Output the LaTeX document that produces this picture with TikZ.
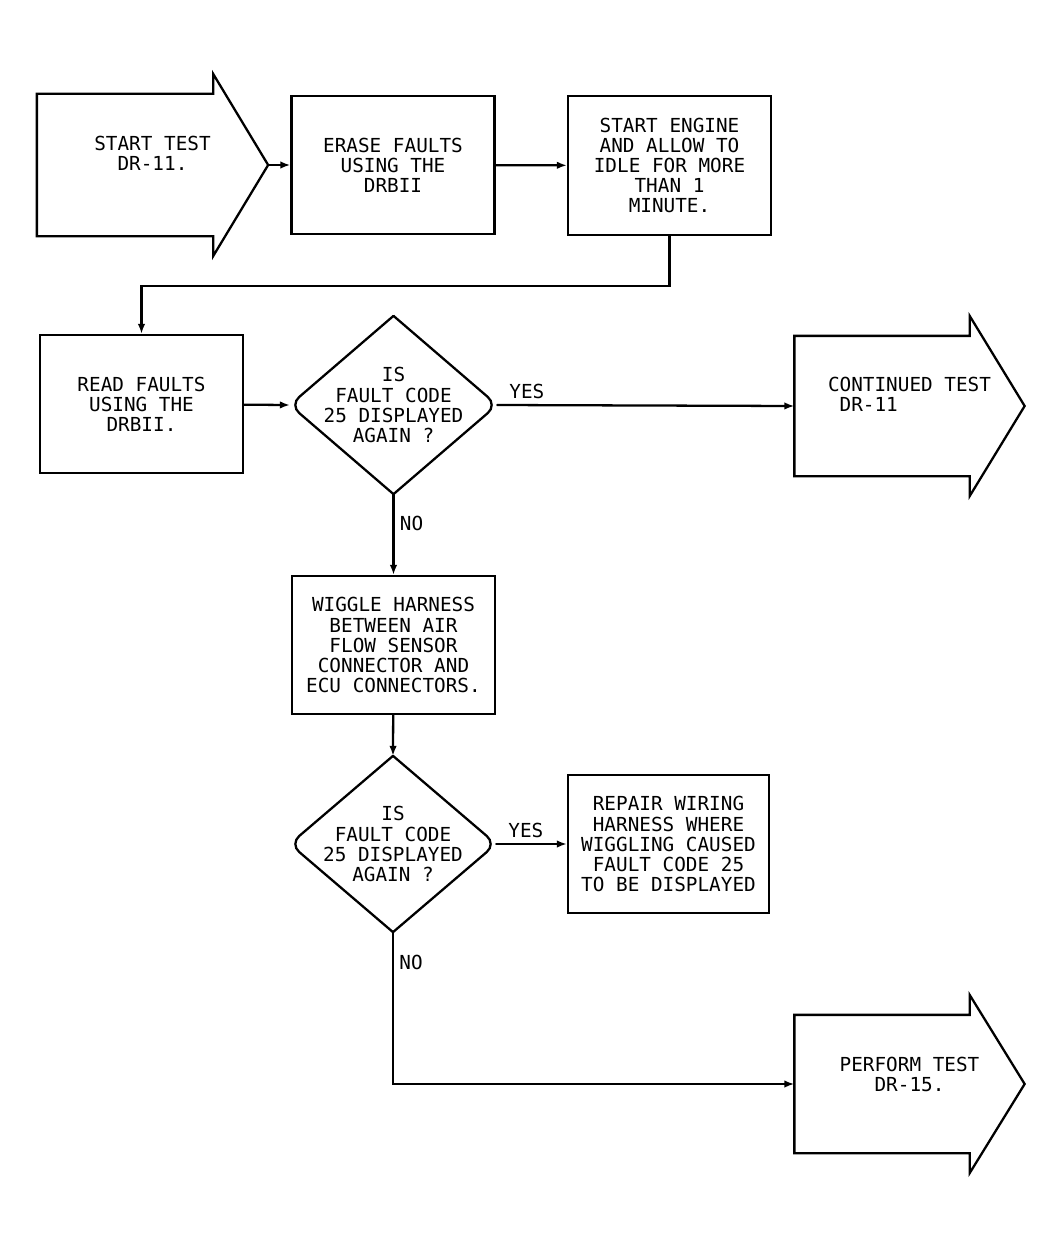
\documentclass[tikz,border=0pt]{standalone}
\usepackage{fontspec}
\setmonofont{DejaVu Sans Mono}
\usepackage{tikz}
\usetikzlibrary{arrows.meta}

% outline of a big arrow (body + head) round a node
\newcommand{\termoutline}[1]{%
  \draw (#1.south west) -- (#1.north west) -- ([xshift=-1.1cm]#1.north east) -- ++(0,0.4)
    -- (#1.east) -- ([xshift=-1.1cm,yshift=-0.4cm]#1.south east) -- ([xshift=-1.1cm]#1.south east) -- cycle;}
% outline of a decision, left and right corners rounded
\newcommand{\decoutline}[1]{%
  \draw[rounded corners=7pt] (#1.north) -- (#1.west) -- (#1.south);
  \draw[rounded corners=7pt] (#1.north) -- (#1.east) -- (#1.south);}

\begin{document}
\begin{tikzpicture}[line width=1.3pt, line cap=round, >={Latex[length=2mm,width=1.5mm]},
  every node/.style={font=\ttfamily\fontsize{11pt}{11.4pt}\selectfont, align=center, inner sep=0pt},
  box/.style={draw,rectangle,minimum width=4.06cm,minimum height=2.76cm},
  termarrow/.style={rectangle,minimum width=4.56cm,minimum height=2.76cm},
  decision/.style={rectangle,minimum width=4.1cm,minimum height=3.5cm},
  lbl/.style={inner sep=3pt}]
\useasboundingbox (0,0) rectangle (21.22,-25);

\node[termarrow, minimum width=4.58cm, minimum height=2.8cm] (start) at (3.05,-3.3) {START TEST\\DR-11.\\[2pt]};
\termoutline{start}
\node[box] (erase) at (7.86,-3.3) {ERASE FAULTS\\USING THE\\DRBII};
\node[box, minimum height=2.78cm] (engine) at (13.39,-3.31) {START ENGINE\\AND ALLOW TO\\IDLE FOR MORE\\THAN 1\\MINUTE.};
\node[box] (read) at (2.83,-8.08) {READ FAULTS\\USING THE\\DRBII.};
\node[decision, minimum height=3.52cm] (fault1) at (7.87,-8.1) {IS\\FAULT CODE\\25 DISPLAYED\\AGAIN ?};
\decoutline{fault1}
\node[termarrow, align=left] (cont) at (18.19,-8.12) {CONTINUED TEST\\\ DR-11\\[2pt]};
\termoutline{cont}
\node[box] (wiggle) at (7.87,-12.9) {WIGGLE HARNESS\\BETWEEN AIR\\FLOW SENSOR\\CONNECTOR AND\\ECU CONNECTORS.};
\node[decision, minimum width=4.08cm, minimum height=3.48cm] (fault2) at (7.86,-16.88) {IS\\FAULT CODE\\25 DISPLAYED\\AGAIN ?};
\decoutline{fault2}
\node[box, minimum width=4.02cm] (repair) at (13.37,-16.88) {REPAIR WIRING\\HARNESS WHERE\\WIGGLING CAUSED\\FAULT CODE 25\\TO BE DISPLAYED};
\node[termarrow, minimum height=2.72cm] (perform) at (18.19,-21.68) {PERFORM TEST\\DR-15.\\};
\termoutline{perform}

\draw[->] (start.east) -- (erase.west);
\draw[->] (erase) -- (engine);
\draw[->] (engine.south) -- ++(0,-1) -| (read.north);
\draw[->] (read) -- (fault1.west);
\draw[->] (fault1.east) -- node[lbl, pos=0.1, above] {YES} (cont.west);
\draw[->] (fault1.south) -- node[lbl, pos=0.36, right] {NO} (wiggle.north);
\draw[->] (wiggle) -- (fault2.north);
\draw[->] (fault2.east) -- node[lbl, pos=0.42, above] {YES} (repair.west);
\draw[->] (fault2.south) |- node[lbl, pos=0.1, right] {NO} (perform.west);
\end{tikzpicture}
\end{document}
